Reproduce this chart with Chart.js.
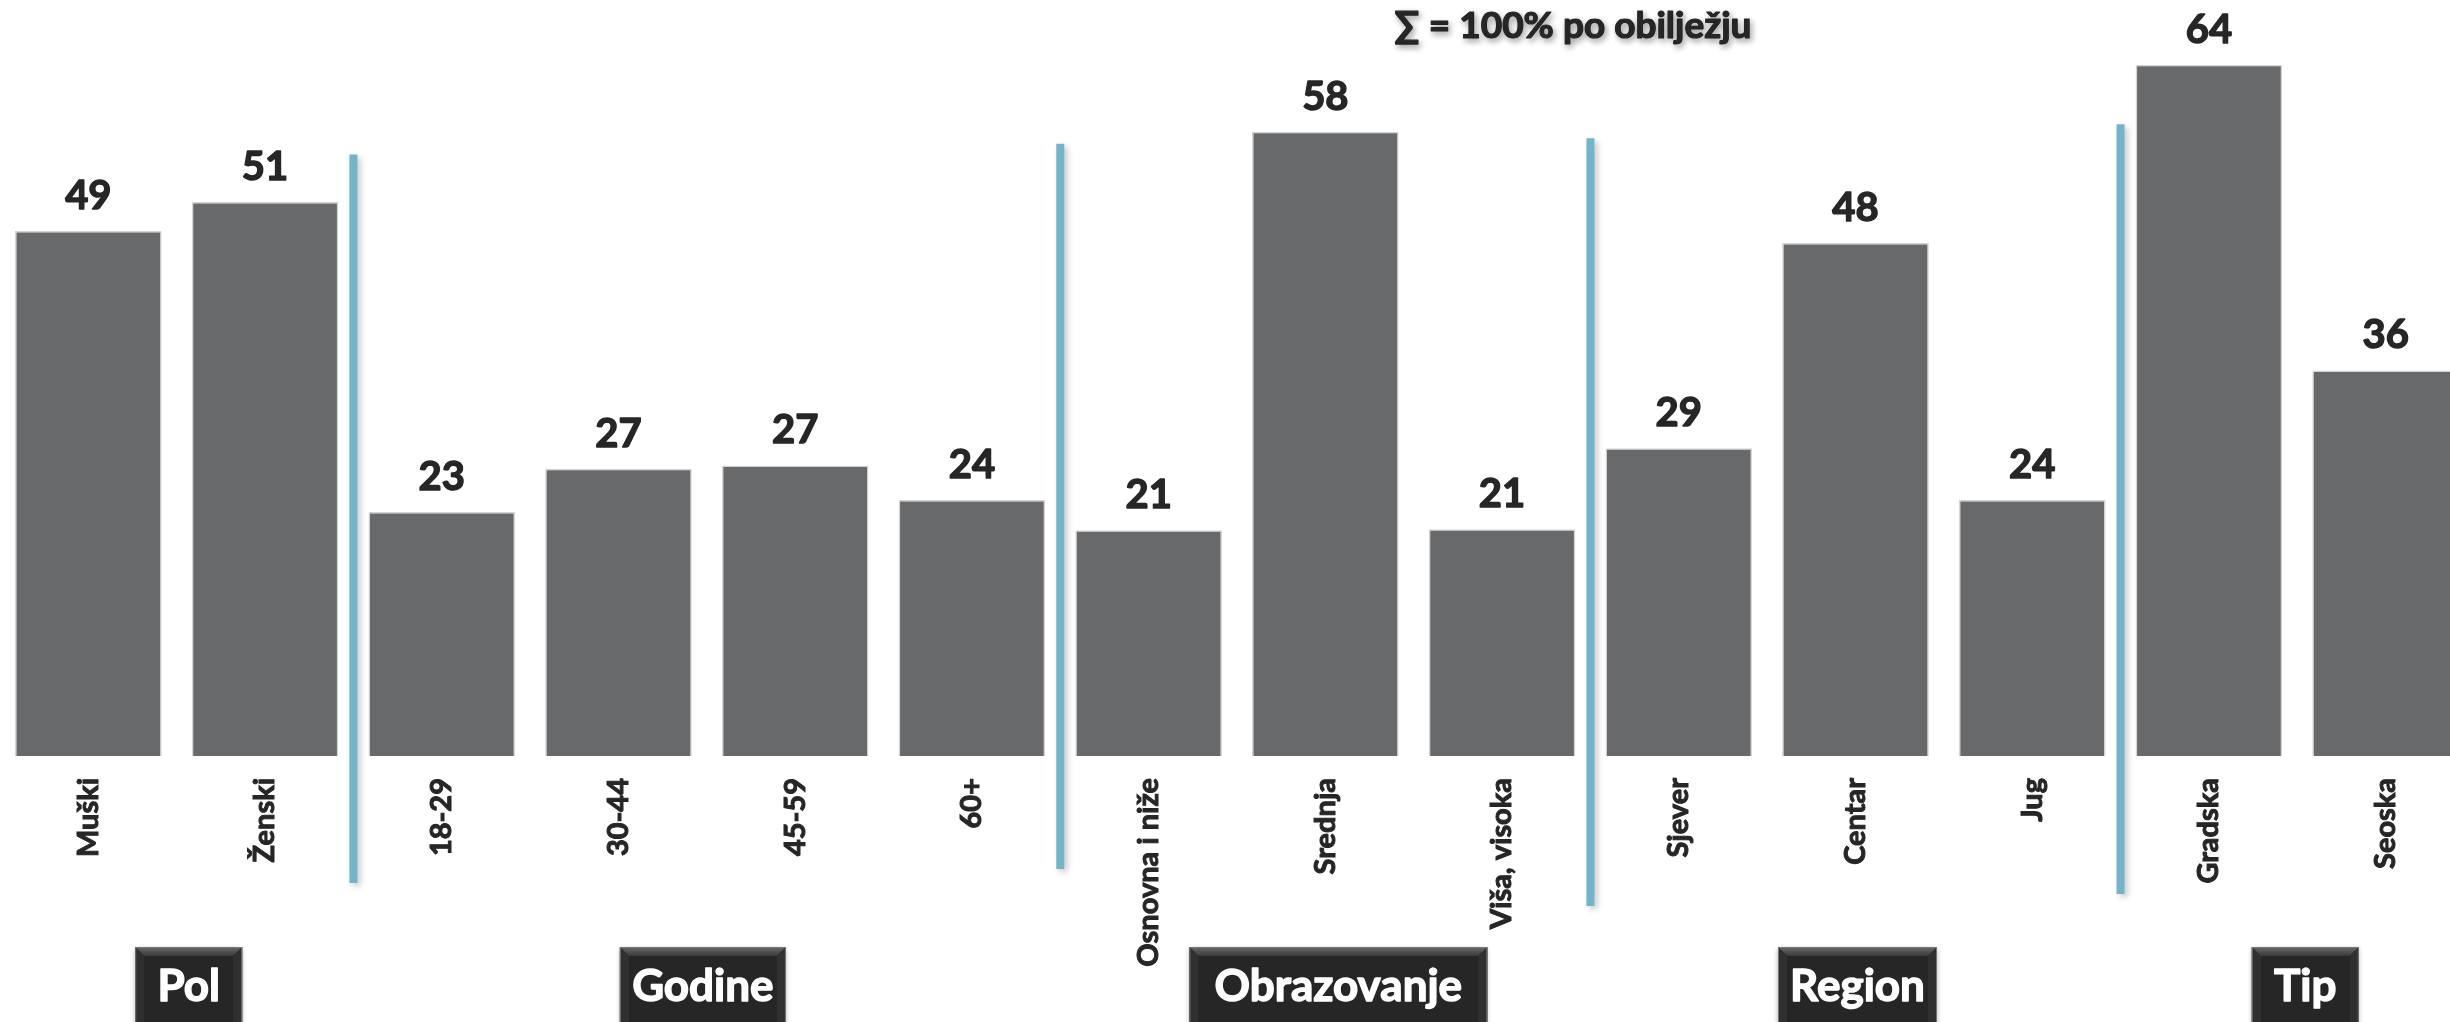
<!DOCTYPE html>
<html>
<head>
<meta charset="utf-8">
<script src="https://cdn.jsdelivr.net/npm/chart.js@4.4.0/dist/chart.umd.min.js"></script>
<style>
  html, body { margin: 0; padding: 0; background: #fff; overflow: hidden; }
  #wrap { width: 2474px; height: 1022px; position: relative; }
</style>
</head>
<body>
<div id="wrap"><canvas id="chartProfile" width="2474" height="1022"></canvas></div>
<script>
// data
const categories = ["Muški", "Ženski", "18-29", "30-44", "45-59", "60+", "Osnovna i niže", "Srednja", "Viša, visoka", "Sjever", "Centar", "Jug", "Gradska", "Seoska"];
const values = [48.6, 51.3, 22.6, 26.6, 26.9, 23.7, 20.9, 57.8, 21.0, 28.5, 47.5, 23.7, 64.0, 35.7];
const groupLabels = ["Pol", "Godine", "Obrazovanje", "Region", "Tip"];
const groupFirst = [0, 2, 6, 9, 12];
const groupLast = [1, 5, 8, 11, 13];
const titleText = "∑ = 100% po obilježju";

const FONT = "Lato, 'Open Sans', 'DejaVu Sans', sans-serif";
const INK = "#262626";

// separators: top in y units, bottom = px below the axis
const sepTops = [55.7, 56.7, 57.2, 58.5];
const sepDrops = [127, 113, 150, 138];
// box look (widths / nudges)
const boxWidths = [107, 166, 298, 159, 107];
const boxShift = [12, -4, 13, 2, 8];

function boldText(ctx, txt, x, y, stroke) {
    ctx.lineJoin = "round";
    ctx.lineWidth = stroke;
    ctx.strokeStyle = ctx.fillStyle;
    ctx.strokeText(txt, x, y);
    ctx.fillText(txt, x, y);
}

const extras = {
    id: "extras",
    afterDatasetsDraw(chart) {
        const ctx = chart.ctx;
        const x = chart.scales.x, y = chart.scales.y;
        const area = chart.chartArea;
        const meta = chart.getDatasetMeta(0);

        // value labels
        ctx.save();
        ctx.font = "bold 40px " + FONT;
        ctx.fillStyle = INK;
        ctx.textAlign = "center";
        ctx.textBaseline = "alphabetic";
        meta.data.forEach((bar, i) => {
            boldText(ctx, String(Math.round(values[i])), bar.x, bar.y - 22, 1.4);
        });
        ctx.restore();

        // blue separators
        ctx.save();
        ctx.strokeStyle = "#72b4cc";
        ctx.lineWidth = 8;
        ctx.shadowColor = "rgba(0,0,0,0.22)";
        ctx.shadowBlur = 6;
        ctx.shadowOffsetX = 3;
        ctx.shadowOffsetY = 3;
        groupFirst.slice(1).forEach((g, i) => {
            let px = (x.getPixelForValue(g - 1) + x.getPixelForValue(g)) / 2;
            ctx.beginPath();
            ctx.moveTo(px, y.getPixelForValue(sepTops[i]));
            ctx.lineTo(px, area.bottom + sepDrops[i]);
            ctx.stroke();
        });
        ctx.restore();

        // group boxes
        groupLabels.forEach((lab, i) => {
            let cx = (x.getPixelForValue(groupFirst[i]) + x.getPixelForValue(groupLast[i])) / 2 + boxShift[i];
            ctx.save();
            let w = boxWidths[i];
            let h = 80, top = 947, left = cx - w / 2, b = 9;
            ctx.shadowColor = "rgba(0,0,0,0.35)";
            ctx.shadowBlur = 5;
            ctx.shadowOffsetY = 2;
            ctx.fillStyle = "#262626";
            ctx.fillRect(left, top, w, h);
            ctx.shadowColor = "transparent";
            let grad = ctx.createLinearGradient(0, top, 0, top + b);
            grad.addColorStop(0, "#6a6a6a");
            grad.addColorStop(1, "#3a3a3a");
            ctx.fillStyle = grad;
            ctx.beginPath();
            ctx.moveTo(left, top);
            ctx.lineTo(left + w, top);
            ctx.lineTo(left + w - b, top + b);
            ctx.lineTo(left + b, top + b);
            ctx.closePath();
            ctx.fill();
            ctx.fillStyle = "#303030";
            ctx.beginPath();
            ctx.moveTo(left, top);
            ctx.lineTo(left + b, top + b);
            ctx.lineTo(left + b, top + h);
            ctx.lineTo(left, top + h);
            ctx.closePath();
            ctx.fill();
            ctx.beginPath();
            ctx.moveTo(left + w, top);
            ctx.lineTo(left + w - b, top + b);
            ctx.lineTo(left + w - b, top + h);
            ctx.lineTo(left + w, top + h);
            ctx.closePath();
            ctx.fill();
            ctx.strokeStyle = "#777";
            ctx.lineWidth = 1;
            ctx.strokeRect(left + 0.5, top + 0.5, w - 1, h);
            ctx.font = "bold 44px " + FONT;
            ctx.fillStyle = "#ffffff";
            ctx.textAlign = "center";
            ctx.textBaseline = "alphabetic";
            boldText(ctx, lab, cx, 1001, 1.4);
            ctx.restore();
        });

        // title
        ctx.save();
        ctx.font = "bold 37px " + FONT;
        ctx.fillStyle = INK;
        ctx.textAlign = "center";
        ctx.shadowColor = "rgba(0,0,0,0.35)";
        ctx.shadowBlur = 6;
        ctx.shadowOffsetX = 2;
        ctx.shadowOffsetY = 3;
        boldText(ctx, titleText, 1573, 38, 1.2);
        ctx.restore();
    }
};

let ctx = document.getElementById("chartProfile");
new Chart(ctx, {
    type: "bar",
    data: {
        labels: categories,
        datasets: [{
            data: values,
            backgroundColor: "#68696b",
            borderColor: "#d4d4d4",
            borderWidth: 1.5,
            categoryPercentage: 1,
            barPercentage: 0.83
        }]
    },
    options: {
        responsive: false,
        animation: false,
        layout: { padding: 0 },
        plugins: {
            legend: { display: false },
            tooltip: { enabled: false }
        },
        scales: {
            x: {
                grid: { display: false },
                border: { display: false },
                ticks: {
                    color: INK,
                    font: { family: FONT, size: 29, weight: "bold" },
                    textStrokeColor: INK,
                    textStrokeWidth: 1,
                    minRotation: 90,
                    maxRotation: 90,
                    autoSkip: false,
                    padding: 14
                },
                afterFit: function(scale) { scale.height = 266; }
            },
            y: {
                display: false,
                min: 0,
                max: 70
            }
        }
    },
    plugins: [extras]
});
</script>
</body>
</html>
